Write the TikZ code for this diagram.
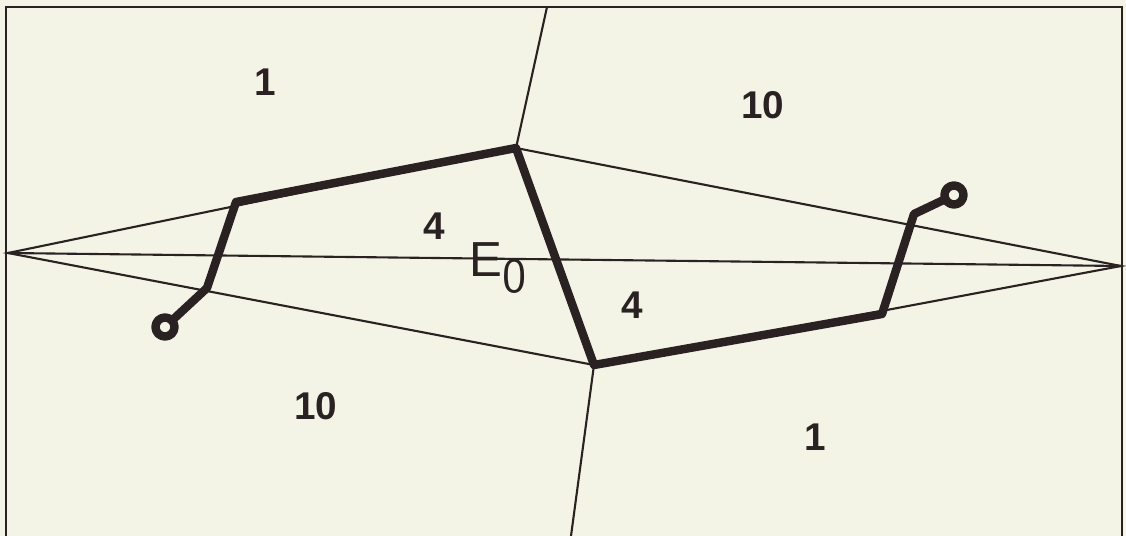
\documentclass[tikz,border=0pt]{standalone}
\usepackage{fontspec}
\setmainfont{Liberation Sans}
\usepackage{tikz}
\usetikzlibrary{positioning,calc}
\definecolor{paper}{HTML}{F4F4E6}
\definecolor{ink}{HTML}{2A2222}

\tikzset{
  thinline/.style={ink,line width=0.6pt},
  pathline/.style={ink,line width=2.4pt,line join=round,line cap=round},
  region/.style={ink,font=\bfseries\fontsize{11}{13}\selectfont}
}

\begin{document}
\begin{tikzpicture}[x=0.01cm,y=-0.01cm]
\fill[paper] (0,0) rectangle (1126,536);
\useasboundingbox (0,0) rectangle (1126,536);
% ---------- frame ----------
\draw[thinline] (6,536) -- (6,7) -- (1122,7) -- (1122,536);
% ---------- vertices ----------
\coordinate (L) at (8,253);
\coordinate (R) at (1121,266);
\coordinate (T) at (516,148);
\coordinate (B) at (594,365);
\coordinate (Ttop) at (547,7);
\coordinate (Bbot) at (571,536);
% ---------- thin lines ----------
\draw[thinline] (L) -- (R);
\draw[thinline] (L) -- (T) -- (R) -- (B) -- cycle;
\draw[thinline] (T) -- (Ttop);
\draw[thinline] (B) -- (Bbot);
% ---------- thick path ----------
\coordinate (p1) at (207,288);
\coordinate (p2) at (236,202);
\coordinate (q1) at (882,314);
\coordinate (q2) at (914,214);
\coordinate (c1) at (165,327);
\coordinate (c2) at (954,195);
\draw[pathline] ($(c1)!0.095cm!(p1)$) -- (p1) -- (p2) -- (T) -- (B) -- (q1) -- (q2) -- ($(c2)!0.095cm!(q2)$);
\draw[pathline] (c1) circle (0.095cm);
\draw[pathline] (c2) circle (0.095cm);
% ---------- labels ----------
\node[region] (n1a) at (265,82) {1};
\node[region] (n10a) at (763,105) {10};
\node[region] (n4a) at (434,226) {4};
\node[region] (n4b) at (632,305) {4};
\node[region] (n10b) at (316,406) {10};
\node[region] (n1b) at (815,437) {1};
\node[ink,font=\fontsize{14}{16}\selectfont] (E0) at (499,268) {E$_{\textsf{0}}$};
\end{tikzpicture}
\end{document}
